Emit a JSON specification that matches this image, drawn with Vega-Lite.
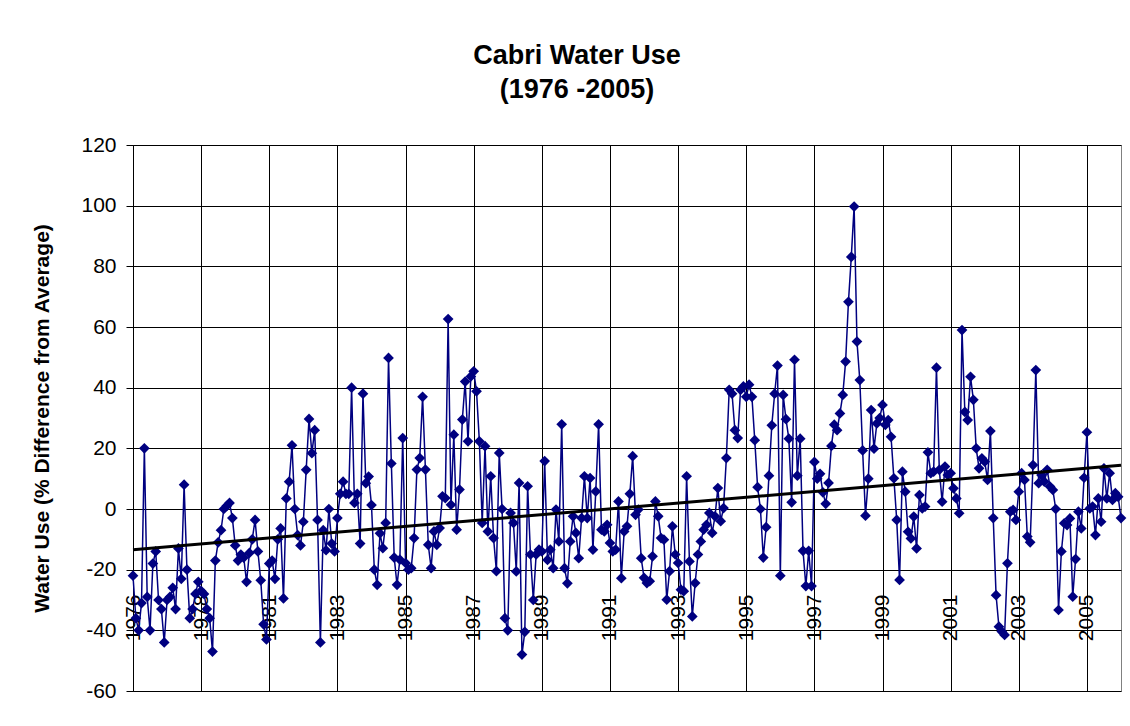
{
  "$schema": "https://vega.github.io/schema/vega-lite/v6.json",
  "width": 988,
  "height": 546,
  "autosize": {"type": "none"},
  "padding": {"left": 133, "top": 145, "right": 9, "bottom": 35},
  "background": "white",
  "config": {"font": "Liberation Sans", "view": {"stroke": "#808080", "strokeWidth": 1}},
  "title": {"text": ["Cabri Water Use", "(1976 -2005)"], "fontSize": 27, "fontWeight": "bold", "font": "Liberation Sans", "color": "#000", "lineHeight": 34, "anchor": "middle", "dx": -50, "offset": 30},
  "data": {"values": [
{"i":0,"v":-22},{"i":1,"v":-36},{"i":2,"v":-40},{"i":3,"v":-31},{"i":4,"v":20},{"i":5,"v":-29},{"i":6,"v":-40},{"i":7,"v":-18},{"i":8,"v":-14},{"i":9,"v":-30},
{"i":10,"v":-33},{"i":11,"v":-44},{"i":12,"v":-30},{"i":13,"v":-29},{"i":14,"v":-26},{"i":15,"v":-33},{"i":16,"v":-13},{"i":17,"v":-23},{"i":18,"v":8},{"i":19,"v":-20},
{"i":20,"v":-36},{"i":21,"v":-33},{"i":22,"v":-28},{"i":23,"v":-24},{"i":24,"v":-27},{"i":25,"v":-28},{"i":26,"v":-33},{"i":27,"v":-36},{"i":28,"v":-47},{"i":29,"v":-17},
{"i":30,"v":-11},{"i":31,"v":-7},{"i":32,"v":0},{"i":33,"v":1},{"i":34,"v":2},{"i":35,"v":-3},{"i":36,"v":-12},{"i":37,"v":-17},{"i":38,"v":-15},{"i":39,"v":-16},
{"i":40,"v":-24},{"i":41,"v":-14.5},{"i":42,"v":-10},{"i":43,"v":-3.6},{"i":44,"v":-14},{"i":45,"v":-23.5},{"i":46,"v":-38},{"i":47,"v":-43},{"i":48,"v":-18},{"i":49,"v":-17},
{"i":50,"v":-23},{"i":51,"v":-10},{"i":52,"v":-6.4},{"i":53,"v":-29.5},{"i":54,"v":3.5},{"i":55,"v":9},{"i":56,"v":21},{"i":57,"v":0},{"i":58,"v":-8.6},{"i":59,"v":-12},
{"i":60,"v":-4.2},{"i":61,"v":12.9},{"i":62,"v":29.7},{"i":63,"v":18.4},{"i":64,"v":26},{"i":65,"v":-3.6},{"i":66,"v":-44},{"i":67,"v":-7},{"i":68,"v":-13.6},{"i":69,"v":0},
{"i":70,"v":-11.4},{"i":71,"v":-14},{"i":72,"v":-3},{"i":73,"v":5},{"i":74,"v":9},{"i":75,"v":5},{"i":76,"v":5},{"i":77,"v":40},{"i":78,"v":2},{"i":79,"v":5},
{"i":80,"v":-11.4},{"i":81,"v":38},{"i":82,"v":8.5},{"i":83,"v":10.7},{"i":84,"v":1.3},{"i":85,"v":-20},{"i":86,"v":-25},{"i":87,"v":-8},{"i":88,"v":-12.9},{"i":89,"v":-4.6},
{"i":90,"v":49.8},{"i":91,"v":15},{"i":92,"v":-16},{"i":93,"v":-25},{"i":94,"v":-16.7},{"i":95,"v":23.4},{"i":96,"v":-17.8},{"i":97,"v":-20},{"i":98,"v":-19.5},{"i":99,"v":-9.6},
{"i":100,"v":13},{"i":101,"v":16.8},{"i":102,"v":37},{"i":103,"v":13},{"i":104,"v":-11.8},{"i":105,"v":-19.5},{"i":106,"v":-7.4},{"i":107,"v":-11.8},{"i":108,"v":-6.3},{"i":109,"v":4.2},
{"i":110,"v":3.6},{"i":111,"v":62.6},{"i":112,"v":1.4},{"i":113,"v":24.5},{"i":114,"v":-6.8},{"i":115,"v":6.4},{"i":116,"v":29.5},{"i":117,"v":42},{"i":118,"v":22.3},{"i":119,"v":43.7},
{"i":120,"v":45.4},{"i":121,"v":38.8},{"i":122,"v":22.3},{"i":123,"v":-4.6},{"i":124,"v":20.7},{"i":125,"v":-7.4},{"i":126,"v":10.8},{"i":127,"v":-9.6},{"i":128,"v":-20.5},{"i":129,"v":18.5},
{"i":130,"v":0},{"i":131,"v":-36},{"i":132,"v":-40},{"i":133,"v":-1.3},{"i":134,"v":-4.6},{"i":135,"v":-20.6},{"i":136,"v":8.6},{"i":137,"v":-48},{"i":138,"v":-40.5},{"i":139,"v":7.5},
{"i":140,"v":-15},{"i":141,"v":-30},{"i":142,"v":-15},{"i":143,"v":-13.4},{"i":144,"v":-14},{"i":145,"v":15.8},{"i":146,"v":-16.8},{"i":147,"v":-13.4},{"i":148,"v":-19.5},{"i":149,"v":-0.2},
{"i":150,"v":-10.7},{"i":151,"v":27.9},{"i":152,"v":-19.5},{"i":153,"v":-24.5},{"i":154,"v":-10.7},{"i":155,"v":-2.4},{"i":156,"v":-7.9},{"i":157,"v":-16.2},{"i":158,"v":-3},{"i":159,"v":10.8},
{"i":160,"v":-3},{"i":161,"v":10.2},{"i":162,"v":-13.4},{"i":163,"v":5.8},{"i":164,"v":27.9},{"i":165,"v":-6.8},{"i":166,"v":-7.4},{"i":167,"v":-5.2},{"i":168,"v":-11.2},{"i":169,"v":-14},
{"i":170,"v":-13.4},{"i":171,"v":2.5},{"i":172,"v":-22.8},{"i":173,"v":-7.4},{"i":174,"v":-5.7},{"i":175,"v":5},{"i":176,"v":17.4},{"i":177,"v":-1.9},{"i":178,"v":-0.2},{"i":179,"v":-16.2},
{"i":180,"v":-22.7},{"i":181,"v":-24.4},{"i":182,"v":-23.8},{"i":183,"v":-15.6},{"i":184,"v":2.5},{"i":185,"v":-2.4},{"i":186,"v":-9.6},{"i":187,"v":-10.1},{"i":188,"v":-29.9},{"i":189,"v":-20.5},
{"i":190,"v":-5.7},{"i":191,"v":-15},{"i":192,"v":-17.8},{"i":193,"v":-26.6},{"i":194,"v":-27.1},{"i":195,"v":10.8},{"i":196,"v":-17.3},{"i":197,"v":-35.4},{"i":198,"v":-24.4},{"i":199,"v":-15},
{"i":200,"v":-10.7},{"i":201,"v":-6.8},{"i":202,"v":-5.2},{"i":203,"v":-1.3},{"i":204,"v":-7.9},{"i":205,"v":-2.4},{"i":206,"v":6.9},{"i":207,"v":-4},{"i":208,"v":0.3},{"i":209,"v":16.8},
{"i":210,"v":39.3},{"i":211,"v":38},{"i":212,"v":26},{"i":213,"v":23.4},{"i":214,"v":39.3},{"i":215,"v":40.4},{"i":216,"v":37},{"i":217,"v":41},{"i":218,"v":37},{"i":219,"v":22.7},
{"i":220,"v":7.2},{"i":221,"v":0},{"i":222,"v":-16},{"i":223,"v":-6},{"i":224,"v":11},{"i":225,"v":27.6},{"i":226,"v":38},{"i":227,"v":47.3},{"i":228,"v":-22},{"i":229,"v":37.6},
{"i":230,"v":29.6},{"i":231,"v":23.2},{"i":232,"v":2.2},{"i":233,"v":49.2},{"i":234,"v":11},{"i":235,"v":23.2},{"i":236,"v":-13.8},{"i":237,"v":-25.4},{"i":238,"v":-13.8},{"i":239,"v":-25.4},
{"i":240,"v":15.5},{"i":241,"v":10},{"i":242,"v":11.6},{"i":243,"v":5.5},{"i":244,"v":1.7},{"i":245,"v":8.6},{"i":246,"v":20.8},{"i":247,"v":27.8},{"i":248,"v":26},{"i":249,"v":31.5},
{"i":250,"v":37.6},{"i":251,"v":48.6},{"i":252,"v":68.3},{"i":253,"v":83.1},{"i":254,"v":99.7},{"i":255,"v":55.2},{"i":256,"v":42.5},{"i":257,"v":19.3},{"i":258,"v":-2.2},{"i":259,"v":10},
{"i":260,"v":32.6},{"i":261,"v":19.9},{"i":262,"v":28.2},{"i":263,"v":30},{"i":264,"v":34.3},{"i":265,"v":27.7},{"i":266,"v":29.3},{"i":267,"v":23.8},{"i":268,"v":10.1},{"i":269,"v":-3.6},
{"i":270,"v":-23.4},{"i":271,"v":12.3},{"i":272,"v":5.7},{"i":273,"v":-7.5},{"i":274,"v":-9.7},{"i":275,"v":-2.5},{"i":276,"v":-13},{"i":277,"v":4.6},{"i":278,"v":0.2},{"i":279,"v":0.8},
{"i":280,"v":18.7},{"i":281,"v":11.8},{"i":282,"v":12.3},{"i":283,"v":46.6},{"i":284,"v":12.9},{"i":285,"v":2.4},{"i":286,"v":14},{"i":287,"v":11.2},{"i":288,"v":11.8},{"i":289,"v":6.8},
{"i":290,"v":3.5},{"i":291,"v":-1.4},{"i":292,"v":59},{"i":293,"v":32},{"i":294,"v":29.3},{"i":295,"v":43.6},{"i":296,"v":36},{"i":297,"v":20},{"i":298,"v":13.4},{"i":299,"v":16.7},
{"i":300,"v":15.6},{"i":301,"v":9.6},{"i":302,"v":25.7},{"i":303,"v":-3},{"i":304,"v":-28.4},{"i":305,"v":-38.8},{"i":306,"v":-40.4},{"i":307,"v":-41.5},{"i":308,"v":-17.9},{"i":309,"v":-0.9},
{"i":310,"v":-0.3},{"i":311,"v":-3.6},{"i":312,"v":5.7},{"i":313,"v":11.8},{"i":314,"v":9.6},{"i":315,"v":-9.1},{"i":316,"v":-11},{"i":317,"v":14.5},{"i":318,"v":45.8},{"i":319,"v":8.5},
{"i":320,"v":11.2},{"i":321,"v":9},{"i":322,"v":12.9},{"i":323,"v":7.4},{"i":324,"v":6.3},{"i":325,"v":0},{"i":326,"v":-33.3},{"i":327,"v":-14},{"i":328,"v":-4.7},{"i":329,"v":-5.3},
{"i":330,"v":-3.1},{"i":331,"v":-28.9},{"i":332,"v":-16.5},{"i":333,"v":-0.9},{"i":334,"v":-6.4},{"i":335,"v":10.3},{"i":336,"v":25.3},{"i":337,"v":0.2},{"i":338,"v":0.8},{"i":339,"v":-8.6},
{"i":340,"v":3.5},{"i":341,"v":-4.2},{"i":342,"v":13.4},{"i":343,"v":3.5},{"i":344,"v":11.8},{"i":345,"v":3},{"i":346,"v":5.2},{"i":347,"v":4},{"i":348,"v":-3}
  ]},
  "layer": [
    {
      "mark": {"type": "line", "color": "#000080", "strokeWidth": 1.5, "point": {"shape": "diamond", "size": 115, "filled": true, "color": "#000080", "opacity": 1}},
      "encoding": {
        "x": {"field": "i", "type": "quantitative", "scale": {"domain": [0, 348], "nice": false, "zero": false},
          "axis": {"values": [0,12,24,36,48,60,72,84,96,108,120,132,144,156,168,180,192,204,216,228,240,252,264,276,288,300,312,324,336,348],
            "grid": true, "gridColor": "#000000", "gridWidth": 1, "ticks": false, "domain": false, "title": null,
            "labelAngle": 270, "labelAlign": "right", "labelBaseline": "middle", "labelPadding": -97, "labelFontSize": 21, "labelColor": "#000000",
            "labelFlush": false, "labelOverlap": false, "labelBound": false,
            "labelExpr": "datum.value % 24 == 0 && datum.value < 348 ? ['1976','1978','1981','1983','1985','1987','1989','1991','1993','1995','1997','1999','2001','2003','2005'][datum.value / 24] : ''"}},
        "y": {"field": "v", "type": "quantitative", "scale": {"domain": [-60, 120], "nice": false, "zero": false},
          "axis": {"values": [-60,-40,-20,0,20,40,60,80,100,120], "grid": true, "gridColor": "#000000", "gridWidth": 1,
            "tickSize": 7, "tickColor": "#000000", "domainColor": "#000000", "labelFontSize": 21, "labelPadding": 10, "labelColor": "#000000",
            "labelExpr": "datum.value + ''",
            "title": "Water Use (% Difference from Average)", "titleFontSize": 21, "titleFontWeight": "bold", "titleColor": "#000000", "titlePadding": 28}}
      }
    },
    {
      "transform": [{"regression": "v", "on": "i", "method": "linear", "extent": [0, 348]}],
      "mark": {"type": "line", "color": "#000000", "strokeWidth": 3},
      "encoding": {
        "x": {"field": "i", "type": "quantitative"},
        "y": {"field": "v", "type": "quantitative"}
      }
    }
  ]
}
